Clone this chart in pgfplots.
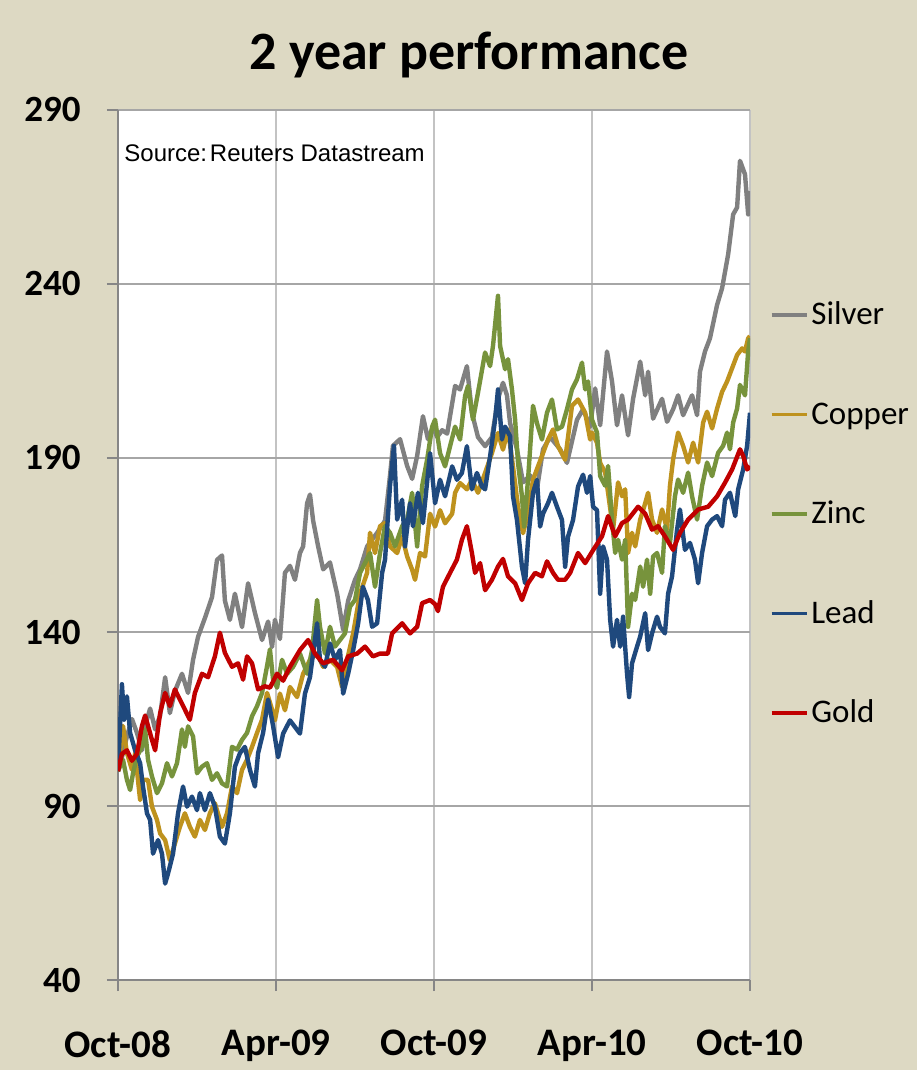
\documentclass[border=0pt]{standalone}
\usepackage{fontspec}
\setmainfont{Carlito}
\newfontfamily\srcfont{Liberation Sans}
\usepackage{pgfplots}
\pgfplotsset{compat=1.18}
\definecolor{bg}{RGB}{221,217,195}
\definecolor{cSilver}{RGB}{128,128,128}
\definecolor{cCopper}{RGB}{190,146,30}
\definecolor{cZinc}{RGB}{119,147,60}
\definecolor{cLead}{RGB}{31,73,125}
\definecolor{cGold}{RGB}{192,0,0}
\definecolor{gridh}{RGB}{166,166,166}
\definecolor{gridv}{RGB}{195,195,195}
\definecolor{axc}{RGB}{134,134,134}
\begin{document}
\begin{tikzpicture}
\fill[bg] (0,0) rectangle (458.5pt,535pt);
\useasboundingbox (0,0) rectangle (458.5pt,535pt);
\node[anchor=base,font=\bfseries\fontsize{27}{27}\selectfont] at (234.5pt,500pt) {2 year performance};
\begin{axis}[
  at={(59pt,45pt)}, anchor=south west,
  scale only axis, width=316pt, height=435pt,
  xmin=0, xmax=24, ymin=40, ymax=290,
  xtick={0,6,12,18,24},
  xticklabels={Oct-08,Apr-09,Oct-09,Apr-10,Oct-10},
  ytick={40,90,140,190,240,290},
  /pgf/number format/assume math mode=true,
  ticklabel style={font=\bfseries\fontsize{18.5}{18.5}\selectfont, inner sep=0pt},
  yticklabel style={anchor=east, xshift=-13pt},
  xticklabel style={anchor=north, yshift=-19.5pt, font=\bfseries\fontsize{19.5}{19.5}\selectfont},
  axis x line*=bottom, axis y line*=left,
  axis line style={draw=axc, line width=1.3pt, -},
  tick align=outside, major tick length=5.5pt,
  tick style={draw=axc, line width=0.8pt},
  grid=major,
  x grid style={draw=gridv, line width=0.8pt},
  y grid style={draw=gridh, line width=0.8pt},
  axis background/.style={fill=white},
  every axis plot/.append style={line width=2.2pt, line join=round, no markers},
  legend style={at={(axis description cs:1.0316,0.7828)}, anchor=north west,
    draw=none, fill=none, inner sep=0pt, outer sep=0pt,
    font=\fontsize{16.5}{16.5}\selectfont, row sep=33.75pt, column sep=1.5pt,
    nodes={inner sep=0pt, text height=13pt, text depth=3pt, anchor=west}},
  legend cell align=left,
  legend image code/.code={\draw[#1, line width=1.7pt] (0pt,0pt) -- (17.5pt,0pt);},
]
\addplot[cSilver] coordinates {
(0,100)(0.15,104)(0.34,110)(0.53,115)(0.72,111)(0.91,106)(1.03,113)(1.22,118)(1.41,112)(1.60,116)
(1.79,127)(1.97,116.7)(2.16,123)(2.43,128)(2.66,122.5)(2.85,132)(3.04,138.6)(3.30,144)(3.57,150)(3.76,160.7)
(3.95,162)(4.06,149)(4.25,143.5)(4.44,151)(4.71,141.4)(4.94,154)(5.20,145.5)(5.47,137.7)(5.70,143)(5.85,135.7)
(5.96,143.5)(6.15,138)(6.34,157)(6.53,159)(6.72,155)(6.91,162.7)(7.03,164.6)(7.18,177)(7.29,179.5)(7.41,172)
(7.60,164.6)(7.79,158)(8.05,160)(8.32,151)(8.55,140.6)(8.74,149)(9.00,155)(9.19,158)(9.46,164.6)(9.84,168.5)
(10.14,172)(10.33,185)(10.44,193.5)(10.71,195.4)(10.98,187.7)(11.17,184)(11.36,190.6)(11.58,202)(11.77,195.4)(11.96,199)
(12.12,196)(12.31,198)(12.50,197)(12.80,210.7)(12.99,209.7)(13.25,216.4)(13.44,203)(13.67,196)(13.94,193.4)(14.20,196)
(14.43,207)(14.62,211.6)(14.77,208)(14.89,200)(15.15,192.5)(15.38,183)(15.65,185)(15.91,181)(16.14,192.5)(16.41,196)
(16.79,192.5)(17.05,188.6)(17.43,201)(17.66,204)(17.93,199)(18.12,210)(18.31,199.4)(18.57,220.6)(18.76,212)(18.95,199.4)
(19.14,208)(19.37,196.5)(19.56,207)(19.83,217.7)(20.02,208)(20.13,214.8)(20.32,201.3)(20.66,207)(20.85,200.4)(21.08,204)
(21.27,208)(21.46,202.3)(21.80,208)(21.99,202.3)(22.10,214.8)(22.29,220.6)(22.48,224.4)(22.75,234)(22.94,238.8)(23.17,248.5)
(23.36,260)(23.51,262)(23.62,275.4)(23.81,271.5)(23.93,260)(24.00,266.7)
};
\addlegendentry{Silver}
\addplot[cCopper] coordinates {
(0,100)(0.19,113)(0.34,105.2)(0.53,100.4)(0.65,105.2)(0.84,91.7)(0.95,97.5)(1.14,97.5)(1.29,89.8)(1.48,86)
(1.60,82.1)(1.79,80.2)(1.97,74.4)(2.16,79.2)(2.35,84)(2.54,87.9)(2.73,84)(2.92,81.2)(3.11,86)(3.30,83.1)
(3.49,87.9)(3.68,90.8)(3.95,84)(4.14,87.9)(4.33,95.6)(4.52,93.7)(4.71,100.4)(4.90,103.3)(5.09,107)(5.28,111)
(5.47,114.8)(5.66,122.5)(5.85,117.7)(5.96,114.6)(6.15,122.3)(6.34,117.5)(6.53,124.2)(6.80,121.3)(7.03,128)(7.29,132)
(7.56,133.8)(7.79,130)(8.05,132)(8.32,130)(8.51,124.2)(8.70,132)(8.93,139.6)(9.19,151)(9.46,157)(9.57,168.5)
(9.76,162.7)(9.95,170.4)(10.14,171.3)(10.33,164.6)(10.60,162.7)(10.79,167.5)(10.98,161.7)(11.17,157.9)(11.28,155)(11.47,162.7)
(11.66,161.7)(11.85,174)(12.04,170.3)(12.23,175)(12.42,171.25)(12.69,174)(12.80,180)(12.99,182.8)(13.25,181)(13.44,183.75)
(13.67,180)(13.94,185.7)(14.20,191.4)(14.43,197.2)(14.62,192.4)(14.81,198.2)(15.00,187.6)(15.19,176)(15.38,168.4)(15.57,174)
(15.76,183.75)(15.95,187.6)(16.14,191.4)(16.33,195.3)(16.52,198.2)(16.71,193.4)(16.98,189.5)(17.24,205)(17.47,206.8)(17.74,203)
(17.93,195.3)(18.00,197.3)(18.19,194.4)(18.31,188.6)(18.50,185.8)(18.61,180)(18.80,169.4)(18.99,183)(19.14,179)(19.26,181)
(19.37,162.7)(19.52,168.5)(19.64,164.6)(19.83,172.3)(20.02,177)(20.13,180)(20.28,172.3)(20.47,168.5)(20.66,175.2)(20.85,169.4)
(20.96,182)(21.08,189.6)(21.27,197.3)(21.46,193.5)(21.65,188.7)(21.84,194.4)(22.03,188.7)(22.22,200.2)(22.37,203.3)(22.56,198.5)
(22.75,204.2)(22.94,209)(23.13,212)(23.32,215.8)(23.51,219.6)(23.70,221.5)(23.81,220.6)(23.93,224.4)(24.00,225)
};
\addlegendentry{Copper}
\addplot[cZinc] coordinates {
(0,100)(0.19,103.3)(0.34,97.5)(0.46,94.6)(0.57,99.4)(0.72,104.2)(0.91,107)(1.03,112)(1.14,103.3)(1.29,98.5)
(1.48,93.7)(1.67,96.5)(1.86,102.3)(2.05,98.5)(2.24,102.3)(2.43,112)(2.54,107)(2.66,112.9)(2.85,110)(3.00,99.4)
(3.19,101.3)(3.38,102.3)(3.57,97.5)(3.76,99.4)(3.95,96.5)(4.14,95.6)(4.33,107)(4.52,106.2)(4.71,109)(4.90,111)
(5.09,115.8)(5.28,118.7)(5.47,122.5)(5.66,130.2)(5.77,135)(5.89,126.3)(6.04,124)(6.23,132)(6.42,128)(6.65,130)
(6.91,133.8)(7.18,128)(7.37,134.8)(7.56,149.2)(7.67,141.5)(7.86,133.8)(8.05,141.5)(8.24,135.8)(8.43,137.7)(8.62,139.6)
(8.81,147.3)(9.00,149.2)(9.19,157)(9.38,159.8)(9.57,162.7)(9.76,153)(9.95,162.7)(10.14,170.4)(10.33,168.5)(10.52,164.6)
(10.79,170.4)(10.98,172.3)(11.17,180)(11.36,164.6)(11.55,182)(11.74,189.6)(11.93,199)(12.04,201)(12.23,191.4)(12.42,187.6)
(12.61,193.4)(12.80,199)(12.99,195.3)(13.18,207.8)(13.29,210.7)(13.48,201)(13.67,208.75)(13.94,220.3)(14.13,216.4)(14.24,222.2)
(14.43,236.6)(14.51,222.2)(14.70,215.5)(14.81,218.4)(14.96,209.7)(15.08,201)(15.19,188.6)(15.34,179)(15.42,170.3)(15.57,183.75)
(15.76,205)(15.91,200)(16.10,195.3)(16.29,203)(16.48,206.8)(16.67,198.2)(16.86,199)(17.05,204)(17.24,209.7)(17.43,212.6)
(17.62,217.4)(17.74,209.7)(17.85,212)(18.00,201)(18.19,197.3)(18.31,184.8)(18.50,182)(18.61,187.7)(18.76,172.3)(18.88,162.7)
(18.99,166.5)(19.14,160.8)(19.26,166.5)(19.37,141.5)(19.52,151)(19.64,149.2)(19.83,158.8)(19.94,153)(20.09,160.8)(20.21,151)
(20.32,161.7)(20.47,162.7)(20.66,157)(20.77,170.4)(20.96,165.6)(21.15,179)(21.27,183.8)(21.46,180)(21.65,185.8)(21.80,179)
(21.99,172.3)(22.18,182)(22.37,188.7)(22.56,184.8)(22.79,191.5)(22.98,193.5)(23.13,197.3)(23.24,192.5)(23.36,200.2)(23.51,204.2)
(23.62,211)(23.81,208)(23.93,220.6)(24.00,224.4)
};
\addlegendentry{Zinc}
\addplot[cLead] coordinates {
(0,100)(0.15,125)(0.23,114.8)(0.34,121.5)(0.46,111)(0.65,106)(0.84,102.3)(0.95,95.6)(1.10,87.9)(1.22,86)
(1.33,76.3)(1.52,80.2)(1.67,76.3)(1.79,67.7)(1.90,70.6)(2.09,76.3)(2.28,87.9)(2.47,95.6)(2.62,89.8)(2.81,92.7)
(3.00,88.8)(3.11,93.7)(3.30,88.8)(3.49,93.7)(3.68,89.8)(3.87,81.2)(4.06,79.2)(4.25,87.9)(4.44,101.3)(4.63,105.2)
(4.82,107)(5.01,100.4)(5.20,95.6)(5.32,105.2)(5.51,111)(5.70,120.6)(5.89,113)(6.08,104)(6.27,110.8)(6.53,114.6)
(6.72,112.7)(6.91,110.8)(7.10,122.3)(7.29,127)(7.56,142.5)(7.67,132)(7.86,130)(8.05,136.7)(8.24,132)(8.43,134.8)
(8.55,122.3)(8.74,128)(8.93,134.8)(9.12,142.5)(9.30,153)(9.49,149.2)(9.65,141.5)(9.84,142.5)(10.03,157)(10.14,160.8)
(10.33,182)(10.48,193.5)(10.60,172.3)(10.79,178)(10.90,164.6)(11.09,177)(11.20,170.4)(11.39,180)(11.58,171.3)(11.85,191.4)
(12.04,177)(12.23,183.75)(12.42,179)(12.69,187.6)(12.87,183.75)(13.06,185.7)(13.25,193.4)(13.44,181)(13.63,185.7)(13.82,181.8)
(13.94,181)(14.13,190.5)(14.32,201)(14.43,209.7)(14.58,195.3)(14.70,199)(14.89,196.25)(15.00,179)(15.15,172.2)(15.34,158.75)
(15.46,154)(15.57,166.4)(15.76,180)(15.91,183.75)(16.03,170.3)(16.14,174)(16.33,177)(16.48,180)(16.67,176)(16.86,172.2)
(16.98,158.75)(17.09,167.4)(17.28,172.2)(17.47,181.8)(17.66,185.2)(17.81,180)(17.93,184.8)(18.04,176)(18.19,175)(18.31,151)
(18.42,164.6)(18.57,160.8)(18.69,143.5)(18.80,135.8)(18.95,143.5)(19.07,135.8)(19.18,144.4)(19.33,128)(19.41,121.3)(19.52,131)
(19.71,135.8)(19.83,138.7)(20.02,145.4)(20.13,134.8)(20.28,139.6)(20.47,144.4)(20.58,141.5)(20.77,139.6)(20.89,151)(21.04,156)
(21.23,169.4)(21.34,175.2)(21.53,163.6)(21.72,165.6)(21.91,160.8)(22.03,154)(22.18,162.7)(22.37,170.4)(22.56,172.3)(22.75,173.3)
(22.94,170.4)(23.05,178)(23.24,180)(23.44,173.3)(23.55,181)(23.74,186.7)(23.89,193.5)(24.00,203)
};
\addlegendentry{Lead}
\addplot[cGold] coordinates {
(0,100)(0.15,105)(0.34,106)(0.53,103)(0.72,105)(0.91,113)(1.03,116)(1.29,109)(1.41,106)(1.60,116.7)
(1.79,122.5)(1.97,118.7)(2.16,123.5)(2.35,120.6)(2.54,117.7)(2.73,114.8)(2.92,122.5)(3.19,128)(3.42,127)(3.68,133)
(3.87,139.8)(4.06,134)(4.33,130)(4.56,131)(4.75,126.3)(4.90,133)(5.09,131)(5.32,123.5)(5.58,124.4)(5.77,124)
(6.04,128)(6.27,126)(6.53,130)(6.91,134.8)(7.22,137.7)(7.48,133.8)(7.79,131)(8.17,132)(8.51,129)(8.74,133)
(9.08,133.8)(9.38,135.8)(9.68,133)(9.95,133.8)(10.25,133.8)(10.41,139.6)(10.79,142.5)(11.09,139.6)(11.36,141.5)(11.55,148.3)
(11.85,149.2)(12.04,148)(12.15,146)(12.34,153)(12.61,157)(12.87,160.8)(13.06,166.5)(13.25,170.4)(13.44,162.7)(13.56,157)
(13.75,159.8)(13.94,152)(14.20,155)(14.43,158.8)(14.62,161)(14.81,156)(15.08,154)(15.34,149.2)(15.57,154)(15.84,157)
(16.10,156)(16.29,160.3)(16.52,157)(16.71,155)(16.98,155)(17.17,157)(17.47,162.7)(17.74,159.8)(18.04,163.5)(18.38,167.5)
(18.61,173.3)(18.88,167.5)(19.14,171.3)(19.37,172.3)(19.75,176)(20.02,174)(20.28,169.4)(20.51,170.4)(20.77,167.5)(21.08,163.6)
(21.34,168.5)(21.65,172.3)(22.03,175.2)(22.41,176)(22.75,179)(23.05,182.9)(23.32,186.7)(23.62,192.5)(23.74,190.6)(23.89,186.7)
(24.00,187.7)
};
\addlegendentry{Gold}
\node[anchor=west, inner sep=0pt, font=\srcfont\fontsize{12}{12}\selectfont] at (axis description cs:0.0095,0.9506) {Source:\hspace{0.12em}Reuters Datastream};
\end{axis}
\end{tikzpicture}
\end{document}
